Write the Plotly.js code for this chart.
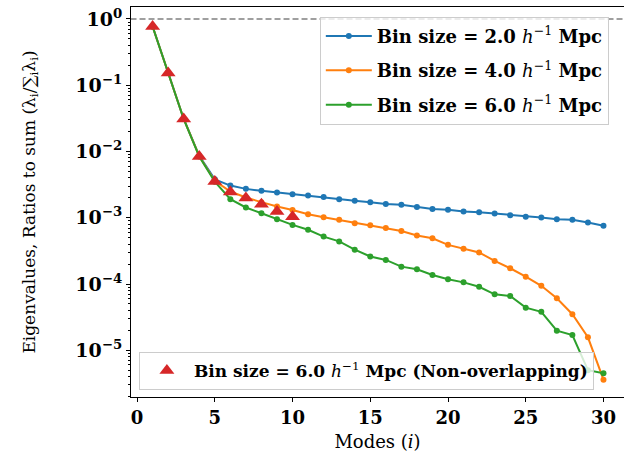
<!DOCTYPE html>
<html>
<head>
<meta charset="utf-8">
<script src="https://cdn.plot.ly/plotly-3.0.1.min.js"></script>
<style>html,body{margin:0;padding:0;background:#fff;}#chart{width:624px;height:455px;}</style>
</head>
<body>
<div id="chart"></div>
<script>
// Data
const modes = [1,2,3,4,5,6,7,8,9,10,11,12,13,14,15,16,17,18,19,20,21,22,23,24,25,26,27,28,29,30];
const bin2 = [0.77, 0.153, 0.031, 0.0086, 0.0038, 0.00306, 0.00273, 0.00255, 0.0024, 0.00227, 0.00216, 0.00205, 0.00191, 0.0018, 0.00172, 0.00162, 0.00157, 0.00145, 0.00136, 0.00132, 0.00124, 0.00121, 0.00116, 0.00109, 0.00104, 0.00101, 0.00095, 0.00093, 0.00085, 0.00076];
const bin4 = [0.77, 0.153, 0.031, 0.0085, 0.0036, 0.00249, 0.00202, 0.00172, 0.00148, 0.00131, 0.00113, 0.00102, 0.00093, 0.00083, 0.00077, 0.0007, 0.00063, 0.00054, 0.00049, 0.00039, 0.00034, 0.0003, 0.000223, 0.000173, 0.000129, 0.000094, 0.000061, 0.000035, 0.0000157, 0.0000036];
const bin6 = [0.77, 0.153, 0.031, 0.0084, 0.0035, 0.00191, 0.00143, 0.00117, 0.00095, 0.00078, 0.00066, 0.00052, 0.00044, 0.00033, 0.00026, 0.000231, 0.000183, 0.000167, 0.000137, 0.000118, 0.000106, 0.000091, 0.00007, 0.000066, 0.000044, 0.000038, 0.0000198, 0.000017, 0.000005, 0.0000045];
const nonOverlapModes = [1,2,3,4,5,6,7,8,9,10];
const nonOverlap = [0.77, 0.153, 0.031, 0.0084, 0.00352, 0.00244, 0.00198, 0.0016, 0.00124, 0.00104];
const refLevel = 1;
const xTickVals = [0,5,10,15,20,25,30];
const yTickVals = [1, 0.1, 0.01, 0.001, 0.0001, 0.00001];
const yTickText = ['10<sup>0</sup>','10<sup>−1</sup>','10<sup>−2</sup>','10<sup>−3</sup>','10<sup>−4</sup>','10<sup>−5</sup>'];
const labels = [
  '<b>Bin size = 2.0 </b><i>h</i><sup>−1</sup><b> Mpc</b>',
  '<b>Bin size = 4.0 </b><i>h</i><sup>−1</sup><b> Mpc</b>',
  '<b>Bin size = 6.0 </b><i>h</i><sup>−1</sup><b> Mpc</b>',
  '<b>Bin size = 6.0 </b><i>h</i><sup>−1</sup><b> Mpc (Non-overlapping)</b>'
];

const serif = 'DejaVu Serif';
const colors = ['#1f77b4', '#ff7f0e', '#2ca02c', '#d62728'];
const series = [bin2, bin4, bin6];

const traces = [{
  x: [-1, 32], y: [refLevel, refLevel], mode: 'lines', showlegend: false, hoverinfo: 'skip',
  line: {color: 'gray', width: 1.5, dash: '6px,3px'}
}];
series.forEach((s, i) => {
  traces.push({
    x: modes, y: s, name: labels[i], mode: 'lines+markers',
    legendgroup: 'g' + i, legend: 'legend',
    line: {color: colors[i], width: 2},
    marker: {color: colors[i], size: 6, symbol: 'circle'}
  });
});
traces.push({
  x: nonOverlapModes, y: nonOverlap, name: labels[3], mode: 'markers',
  legend: 'legend2',
  marker: {color: colors[3], size: 13, symbol: 'triangle-up'}
});

const layout = {
  width: 624, height: 455,
  margin: {l: 131, r: 0, t: 7, b: 58},
  paper_bgcolor: '#fff', plot_bgcolor: '#fff',
  font: {family: serif, color: '#000'},
  xaxis: {
    range: [-0.39, 31.32], showgrid: false, zeroline: false,
    showline: true, linecolor: '#000', linewidth: 1, mirror: true,
    ticks: 'outside', ticklen: 4, tickwidth: 1, tickcolor: '#000',
    tickvals: xTickVals,
    tickfont: {family: serif, size: 18, weight: 'bold', color: '#000'},
    title: {text: 'Modes (<i>i</i>)', font: {family: serif, size: 18, color: '#000'}, standoff: 8}
  },
  yaxis: {
    type: 'log', range: [-5.705, 0.181], showgrid: false, zeroline: false,
    showline: true, linecolor: '#000', linewidth: 1,
    ticks: 'outside', ticklen: 4, tickwidth: 1, tickcolor: '#000',
    tickvals: yTickVals, ticktext: yTickText,
    minor: {ticks: 'outside', ticklen: 2, tickcolor: '#000', dtick: 'D1', showgrid: false},
    tickfont: {family: serif, size: 19, weight: 'bold', color: '#000'},
    title: {text: 'Eigenvalues, Ratios to sum (λ<sub>i</sub>/∑<sub>i</sub>λ<sub>i</sub>)', font: {family: serif, size: 17, color: '#000'}, standoff: 35}
  },
  legend: {
    x: 0.383, y: 0.975, xanchor: 'left', yanchor: 'top',
    bgcolor: 'rgba(255,255,255,0.8)', bordercolor: '#cccccc', borderwidth: 1,
    font: {family: serif, size: 18, color: '#000'},
    itemwidth: 46,
    tracegroupgap: 8
  },
  legend2: {
    x: 0.016, y: 0.018, xanchor: 'left', yanchor: 'bottom',
    bgcolor: 'rgba(255,255,255,0.8)', bordercolor: '#cccccc', borderwidth: 1,
    font: {family: serif, size: 17, color: '#000'},
    itemwidth: 44
  },
  showlegend: true
};

Plotly.newPlot('chart', traces, layout, {displayModeBar: false, staticPlot: true});
</script>
</body>
</html>
